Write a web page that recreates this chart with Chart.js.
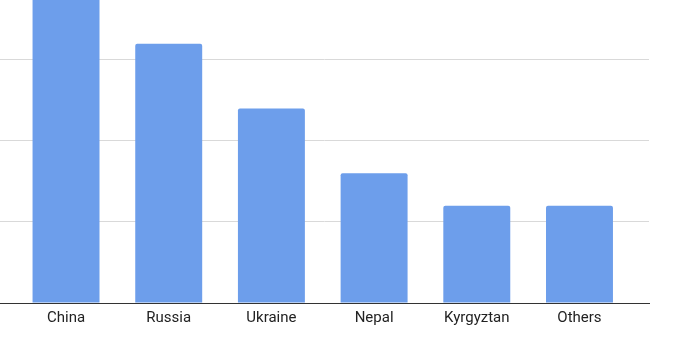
<!DOCTYPE html>
<html>
<head>
<meta charset="utf-8">
<script src="https://cdn.jsdelivr.net/npm/chart.js@4"></script>
<style>
  html, body { margin: 0; padding: 0; background: #fff; }
  #wrap { width: 693px; height: 344px; }
</style>
</head>
<body>
<div id="wrap"><canvas id="chart"></canvas></div>
<script>
// Data
const categories = ['China', 'Russia', 'Ukraine', 'Nepal', 'Kyrgyztan', 'Others'];
const values = [4, 3.2, 2.4, 1.6, 1.2, 1.2];

const ctx = document.getElementById('chart');

new Chart(ctx, {
  type: 'bar',
  data: {
    datasets: [{
      data: values.map((v, i) => ({ x: i, y: v })),
      backgroundColor: '#6d9eeb',
      borderRadius: 2,
      borderSkipped: 'bottom',
      barPercentage: 0.652,
      categoryPercentage: 1
    }]
  },
  options: {
    responsive: true,
    maintainAspectRatio: false,
    animation: false,
    layout: { padding: { left: 0, right: 44, top: 0, bottom: 11 } },
    plugins: { legend: { display: false }, tooltip: { enabled: false } },
    scales: {
      x: {
        type: 'linear',
        offset: false,
        min: -0.643,
        max: 5.677,
        grid: { display: false, drawTicks: false, tickLength: 0 },
        border: { display: true, color: '#333333', width: 1 },
        ticks: {
          stepSize: 1,
          includeBounds: false,
          autoSkip: false,
          maxRotation: 0,
          padding: 6,
          color: '#222222',
          font: { family: 'Roboto', size: 15 },
          callback: (v) => categories[v] || ''
        }
      },
      y: {
        min: 0,
        max: 3.74,
        grid: { color: '#d9d9d9', drawTicks: false },
        border: { display: false },
        ticks: { display: false, stepSize: 1, includeBounds: false }
      }
    }
  }
});
</script>
</body>
</html>
